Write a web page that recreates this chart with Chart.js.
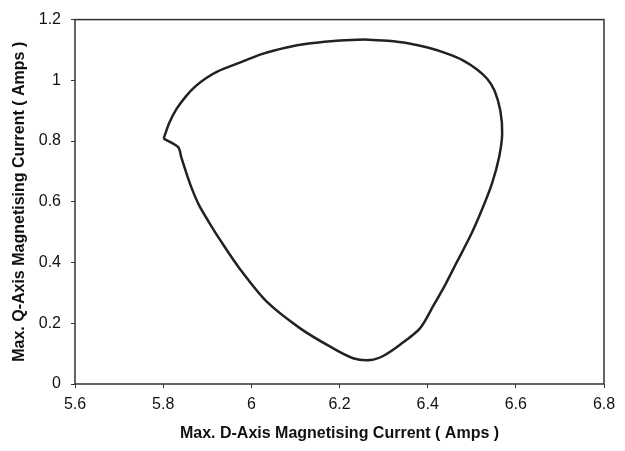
<!DOCTYPE html>
<html>
<head>
<meta charset="utf-8">
<script src="https://cdn.jsdelivr.net/npm/chart.js@4"></script>
<style>
  body { margin: 0; background: #fff; }
  #wrap { width: 625px; height: 451px; }
</style>
</head>
<body>
<div id="wrap"><canvas id="chart" width="625" height="451"></canvas></div>
<script>
// D-axis current (x) and Q-axis current (y), traced round the loop from the cusp
var dAxis = [5.801, 5.814, 5.830, 5.852, 5.873, 5.897, 5.925, 5.959, 6.027, 6.080, 6.130, 6.180, 6.225, 6.265, 6.310, 6.355, 6.400, 6.444, 6.480, 6.512, 6.535, 6.552, 6.565, 6.569, 6.562, 6.546, 6.523, 6.497, 6.466, 6.441, 6.413, 6.383, 6.338, 6.300, 6.270, 6.231, 6.180, 6.110, 6.035, 5.974, 5.928, 5.903, 5.881, 5.866, 5.853, 5.841, 5.834, 5.801];
var qAxis = [0.808, 0.860, 0.905, 0.948, 0.980, 1.007, 1.030, 1.050, 1.088, 1.108, 1.121, 1.129, 1.133, 1.134, 1.130, 1.122, 1.108, 1.088, 1.066, 1.036, 1.005, 0.965, 0.899, 0.823, 0.747, 0.661, 0.574, 0.488, 0.401, 0.330, 0.258, 0.184, 0.130, 0.093, 0.079, 0.085, 0.122, 0.184, 0.271, 0.379, 0.477, 0.535, 0.590, 0.640, 0.693, 0.747, 0.780, 0.808];
var xTicks = [5.6, 5.8, 6, 6.2, 6.4, 6.6, 6.8];
var yTicks = [0, 0.2, 0.4, 0.6, 0.8, 1, 1.2];

var points = dAxis.map(function (x, i) { return { x: x, y: qAxis[i] }; });

// box round the plot area
var frame = {
  id: 'frame',
  afterDraw: function (chart) {
    var a = chart.chartArea, ctx = chart.ctx;
    ctx.save();
    ctx.strokeStyle = '#333';
    ctx.lineWidth = 1.5;
    ctx.strokeRect(a.left, a.top, a.right - a.left, a.bottom - a.top);
    ctx.restore();
  }
};

var tickFont = { family: 'Liberation Sans, Arial, sans-serif', size: 16 };
var titleFont = { family: 'Liberation Sans, Arial, sans-serif', size: 16, weight: 'bold' };
var plain = function (v) { return String(v); };

new Chart(document.getElementById('chart'), {
  type: 'scatter',
  data: {
    datasets: [{
      data: points,
      showLine: true,
      borderColor: '#222',
      borderWidth: 2.5,
      pointRadius: 0,
      tension: 0.3
    }]
  },
  options: {
    responsive: false,
    animation: false,
    layout: { padding: { left: 0, top: 14, right: 21, bottom: 0 } },
    plugins: { legend: { display: false }, tooltip: { enabled: false } },
    scales: {
      x: {
        type: 'linear',
        min: 5.6, max: 6.8,
        afterBuildTicks: function (s) { s.ticks = xTicks.map(function (v) { return { value: v }; }); },
        afterFit: function (s) { s.height = 67; },
        grid: { drawOnChartArea: false, drawTicks: true, tickLength: 4, color: '#333' },
        border: { display: false },
        ticks: { font: tickFont, color: '#111', padding: 7, maxRotation: 0, callback: plain },
        title: { display: true, text: 'Max. D-Axis Magnetising Current ( Amps )', font: titleFont, color: '#111', padding: { top: 0, bottom: 8 } }
      },
      y: {
        type: 'linear',
        min: 0, max: 1.2,
        afterBuildTicks: function (s) { s.ticks = yTicks.map(function (v) { return { value: v }; }); },
        afterFit: function (s) { s.width = 75; },
        grid: { drawOnChartArea: false, drawTicks: true, tickLength: 4, color: '#333' },
        border: { display: false },
        ticks: { font: tickFont, color: '#111', padding: 10, callback: plain },
        title: { display: true, text: 'Max. Q-Axis Magnetising Current ( Amps )', font: titleFont, color: '#111', padding: { top: 10, bottom: 0 } }
      }
    }
  },
  plugins: [frame]
});
</script>
</body>
</html>
